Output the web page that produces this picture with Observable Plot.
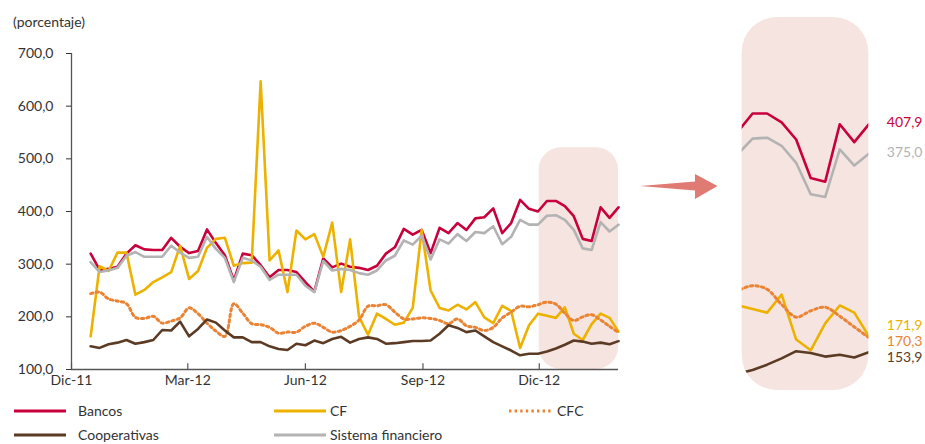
<!DOCTYPE html>
<html>
<head>
<meta charset="utf-8">
<script src="https://cdn.jsdelivr.net/npm/d3@7"></script>
<script src="https://cdn.jsdelivr.net/npm/@observablehq/plot@0.6"></script>
<style>
  body { margin: 0; background: #fff; font-family: Lato, "Open Sans", sans-serif; }
  #root { position: relative; width: 925px; height: 444px; overflow: hidden; background: #fff; }
  .lbl { position: absolute; font-size: 14px; line-height: 18px; color: #333; white-space: nowrap; }
</style>
</head>
<body>
<div id="root"></div>
<script>
// ---------- DATA ----------
const dates = [
  "2011-12-16","2011-12-23","2011-12-30","2012-01-06","2012-01-13","2012-01-20","2012-01-27","2012-02-03","2012-02-10","2012-02-17",
  "2012-02-24","2012-03-02","2012-03-09","2012-03-16","2012-03-23","2012-03-30","2012-04-06","2012-04-13","2012-04-20","2012-04-27",
  "2012-05-04","2012-05-11","2012-05-18","2012-05-25","2012-06-01","2012-06-08","2012-06-15","2012-06-22","2012-06-29","2012-07-06",
  "2012-07-13","2012-07-20","2012-07-27","2012-08-03","2012-08-10","2012-08-17","2012-08-24","2012-08-31","2012-09-07","2012-09-14",
  "2012-09-21","2012-09-28","2012-10-05","2012-10-12","2012-10-19","2012-10-26","2012-11-02","2012-11-09","2012-11-16","2012-11-23",
  "2012-11-30","2012-12-07","2012-12-14","2012-12-21","2012-12-28","2013-01-04","2013-01-11","2013-01-18","2013-01-25","2013-02-01"
];
const bancos = [320,289,291,295,320,336,328,327,327,350, 333,321,325,366,340,317,269,320,317,298,
  275,289,289,285,266,248,311,294,301,295, 293,289,297,320,332,367,356,365,321,369,
  359,378,365,387,389,406,359,378,422,405, 400,420,420,410,391,348,344,408,388,407.9];
const cf = [163,296,287,322,322,242,251,266,275,285, 335,272,287,331,348,350,297,302,303,647,
  307,326,247,364,347,357,314,379,247,347, 200,166,206,196,185,189,217,365,250,217,
  212,223,214,228,199,188,221,211,141,184, 206,202,198,218,168,156,186,206,198,171.9];
const cfc = [244,247,234,230,225,199,197,201,188,192, 198,217,206,188,173,163,225,207,187,185,
  180,169,171,171,182,188,180,171,174,182, 194,220,221,223,209,196,196,198,197,193,
  187,196,183,180,174,180,198,209,220,219, 223,228,224,207,193,200,204,194,182,170.3];
const cooperativas = [144,141,148,151,156,149,152,156,175,174, 191,163,177,195,189,174,161,161,152,152,
  144,139,137,149,146,155,150,158,162,151, 158,161,158,149,150,152,154,154,155,168,
  184,179,171,174,163,152,144,136,127,130, 130,134,140,147,155,153,149,151,148,153.9];
const sistema = [304,285,288,293,316,323,314,314,314,335, 322,312,314,352,329,312,266,312,307,295,
  270,280,280,280,259,247,306,288,291,289, 283,280,288,307,316,345,337,354,309,347,
  339,357,344,361,359,372,338,352,384,375, 375,392,393,384,365,330,327,380,362,375.0];
const seriesNames = ["Bancos","CF","CFC","Cooperativas","Sistema financiero"];
const yTicks = [100,200,300,400,500,600,700];
const xTickDates = ["2011-12-01","2012-03-01","2012-06-01","2012-09-01","2012-12-01"];
const xTickLabels = ["Dic-11","Mar-12","Jun-12","Sep-12","Dic-12"];
const yLabel = "(porcentaje)";
const highlightRange = ["2012-12-01","2013-02-01"];

// ---------- SETUP ----------
const parse = d3.utcParse("%Y-%m-%d");
const D = dates.map(parse);
const tickD = xTickDates.map(parse);
const fmt = v => v.toFixed(1).replace(".", ",");
const values = [bancos, cf, cfc, cooperativas, sistema];
const styles = [
  {color: "#C8003C", lx: 0, dy: -1.6},
  {color: "#EDB100", lx: 260, dy: -10.6},
  {color: "#EA8434", lx: 495, dy: 4.2, dash: "2.4,3.2", curve: "catmull-rom"},
  {color: "#5C3B24", lx: 0, dy: 5.8},
  {color: "#B3B3B3", lx: 260, dy: -1.7}
];
const series = seriesNames.map((name, k) => ({
  name, ...styles[k],
  rows: D.map((d, i) => ({date: d, value: values[k][i]}))
}));
const drawOrder = [0, 1, 2, 3, 4];
const fontStyle = {fontFamily: "Lato, 'Open Sans', sans-serif", fontSize: "14px", color: "#333", background: "transparent", overflow: "visible"};
const pink = "#F5E4E0";

const root = document.getElementById("root");

// ---------- MAIN CHART ----------
const main = Plot.plot({
  width: 630, height: 395,
  marginLeft: 71, marginRight: 12, marginTop: 53, marginBottom: 26,
  x: {type: "utc", domain: [parse("2011-12-01"), parse("2013-02-01")]},
  y: {domain: [100, 700]},
  style: fontStyle,
  marks: [
    Plot.rect([{x1: parse(highlightRange[0]), x2: parse(highlightRange[1])}],
      {x1: "x1", x2: "x2", y1: 100, y2: 521, fill: pink, rx: 22}),
    ...drawOrder.map(k => {
      const s = series[k];
      return Plot.line(s.rows, {x: "date", y: "value", stroke: s.color,
        strokeDasharray: s.dash, strokeWidth: s.dash ? 3 : 2.6, curve: s.curve || "linear", strokeLinejoin: "round"});
    }),
    Plot.ruleY([100], {stroke: "#555", strokeWidth: 1.3}),
    Plot.ruleX([tickD[0]], {stroke: "#555", strokeWidth: 1.3}),
    Plot.ruleX(tickD, {y1: 100, y2: 111, stroke: "#555", strokeWidth: 1.2}),
    Plot.axisY({ticks: yTicks, tickFormat: fmt, tickSize: 5, tickPadding: 13, label: null}),
    Plot.axisX({ticks: tickD, tickFormat: d => xTickLabels[tickD.findIndex(t => +t === +d)], tickSize: 0, tickPadding: 6, label: null})
  ]
});
main.style.position = "absolute";
main.style.left = "0px";
main.style.top = "0px";
root.appendChild(main);

// y label
const yl = document.createElement("div");
yl.className = "lbl";
yl.style.left = "13px"; yl.style.top = "13px";
yl.textContent = yLabel;
root.appendChild(yl);

// ---------- LEGEND ----------
series.forEach((s, k) => {
  const row = k < 3 ? 0 : 1;
  const yc = row === 0 ? 411 : 435;
  const isCFC = s.dash;
  const x0 = 14 + s.lx;
  const w = isCFC ? 44 : 52;
  const sw = document.createElementNS("http://www.w3.org/2000/svg", "svg");
  sw.setAttribute("width", w); sw.setAttribute("height", 6);
  sw.style.position = "absolute"; sw.style.left = x0 + "px"; sw.style.top = (yc - 3) + "px";
  const ln = document.createElementNS("http://www.w3.org/2000/svg", "line");
  ln.setAttribute("x1", 0); ln.setAttribute("x2", w); ln.setAttribute("y1", 3); ln.setAttribute("y2", 3);
  ln.setAttribute("stroke", s.color); ln.setAttribute("stroke-width", 3);
  if (isCFC) ln.setAttribute("stroke-dasharray", s.dash);
  sw.appendChild(ln);
  root.appendChild(sw);
  const t = document.createElement("div");
  t.className = "lbl";
  t.style.left = (isCFC ? x0 + w + 4 : x0 + 64 - (s.lx ? 8 : 0)) + "px";
  t.style.top = (yc - 9) + "px";
  t.textContent = s.name;
  root.appendChild(t);
});

// ---------- ARROW ----------
const arrow = document.createElementNS("http://www.w3.org/2000/svg", "svg");
arrow.setAttribute("width", 90); arrow.setAttribute("height", 34);
arrow.style.position = "absolute"; arrow.style.left = "636px"; arrow.style.top = "170px";
const poly = document.createElementNS("http://www.w3.org/2000/svg", "polygon");
poly.setAttribute("points", "4,16 59,11.5 59,4 81.5,16 59,29 59,20.5");
poly.setAttribute("fill", "#E07B74");
arrow.appendChild(poly);
root.appendChild(arrow);

// ---------- ZOOM PANEL ----------
const zoomX = [parse("2012-12-02"), parse("2013-02-01")];
const zoomY = [111.2, 527];
const cutoff = parse("2012-11-23");
const last = D.length - 1;
const right = Plot.plot({
  width: 225, height: 444,
  marginLeft: 41.7, marginRight: 56.7, marginTop: 17, marginBottom: 54,
  x: {type: "utc", domain: zoomX, axis: null},
  y: {domain: zoomY, axis: null},
  style: {...fontStyle, fontSize: "14px"},
  marks: [
    Plot.rect([{x1: zoomX[0], x2: zoomX[1]}], {x1: "x1", x2: "x2", y1: zoomY[0], y2: zoomY[1], fill: pink, rx: 35}),
    ...drawOrder.map(k => {
      const s = series[k];
      return Plot.line(s.rows.filter(r => r.date >= cutoff), {x: "date", y: "value", stroke: s.color,
        strokeWidth: s.dash ? 3 : 2.6, strokeDasharray: s.dash, curve: s.curve || "linear", strokeLinejoin: "round", clip: true});
    }),
    ...series.map(s => Plot.text([s.rows[last]], {x: "date", y: "value", text: d => fmt(d.value),
      fill: s.color, dx: 18, dy: s.dy, textAnchor: "start"}))
  ]
});
right.querySelectorAll("clipPath rect").forEach(r => { r.setAttribute("rx", 35); r.setAttribute("ry", 35); });
right.style.position = "absolute";
right.style.left = "700px";
right.style.top = "0px";
root.appendChild(right);
</script>
</body>
</html>
